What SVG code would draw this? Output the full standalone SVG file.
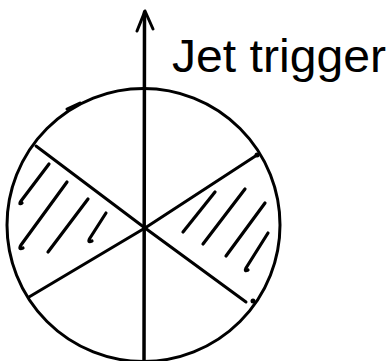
<svg xmlns="http://www.w3.org/2000/svg" width="390" height="361" viewBox="0 0 390 361">
<style>
.s{fill:none;stroke:#000;stroke-width:3;stroke-linecap:round;stroke-linejoin:round}
.h{fill:none;stroke:#000;stroke-width:3.2;stroke-linecap:round;stroke-linejoin:round}
.t{font-family:"Liberation Sans",Arial,sans-serif;font-size:46px;fill:#000}
</style>
<rect width="390" height="361" fill="#fff"/>
<g id="circle">
<circle class="s" cx="143.5" cy="225" r="136.5"/>
<path class="s" d="M67 109 L80 103"/>
</g>
<g id="connectors">
<path class="s" d="M144.5 12 L144 361" style="stroke-width:3.5"/>
<path class="s" d="M137 31 L145 11 L153 29"/>
<path class="s" d="M36 146 L145 228 L246 302"/>
<path class="s" d="M29 297 L145 228 L257 155"/>
<circle cx="257" cy="155" r="2.5"/>
<circle cx="253" cy="301" r="2.5"/>
</g>
<g id="hatch-left">
<path class="h" d="M49 164 L21 201 Q18 205 22 203"/>
<path class="h" d="M67 182 L21 245 Q18 250 23 248"/>
<path class="h" d="M88 199 L48 252"/>
<path class="h" d="M106 213 L90 238 Q87 243 92 241"/>
</g>
<g id="hatch-right">
<path class="h" d="M215 192 L183 232"/>
<path class="h" d="M245 189 L203 244"/>
<path class="h" d="M265 203 L226 256"/>
<path class="h" d="M268 233 L246 268 Q244 272 248 270"/>
</g>
<g id="label">
<text class="t" x="172" y="72" textLength="214" lengthAdjust="spacingAndGlyphs">Jet trigger</text>
</g>
</svg>
